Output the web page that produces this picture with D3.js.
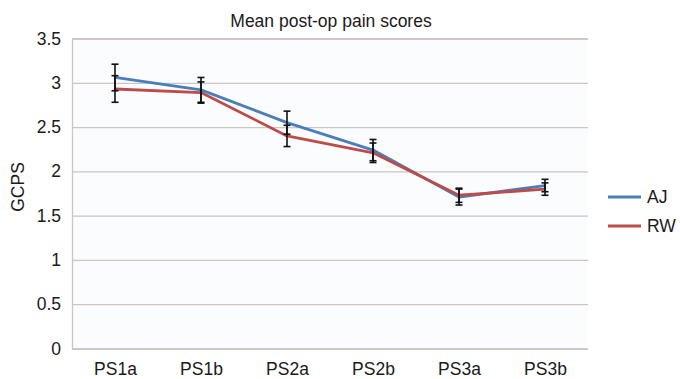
<!DOCTYPE html>
<html>
<head>
<meta charset="utf-8">
<script src="https://cdn.jsdelivr.net/npm/d3@7"></script>
<style>
  body { margin: 0; background: #fff; }
  text { font-family: "Liberation Sans", Arial, sans-serif; fill: #1a1a1a; }
</style>
</head>
<body>
<svg width="680" height="379"></svg>
<script>
var categories = ["PS1a", "PS1b", "PS2a", "PS2b", "PS3a", "PS3b"];
var ajMean = [3.06, 2.92, 2.55, 2.24, 1.71, 1.84];
var ajErr  = [0.15, 0.14, 0.13, 0.12, 0.09, 0.07];
var rwMean = [2.93, 2.89, 2.40, 2.21, 1.73, 1.80];
var rwErr  = [0.15, 0.12, 0.12, 0.11, 0.08, 0.07];
var yTicks = [0, 0.5, 1, 1.5, 2, 2.5, 3, 3.5];

var series = [
  { name: "AJ", mean: ajMean, err: ajErr, color: "#4a7ebb" },
  { name: "RW", mean: rwMean, err: rwErr, color: "#be4b48" }
];

var svg = d3.select("svg"),
    plotLeft = 72, plotRight = 588, plotTop = 38.5, plotBottom = 348.5;

var x = d3.scalePoint().domain(categories).range([plotLeft, plotRight]).padding(0.5);
var y = d3.scaleLinear().domain([0, 3.5]).range([plotBottom, plotTop]);

// faint plot background
svg.append("rect")
    .attr("x", plotLeft).attr("y", plotTop)
    .attr("width", plotRight - plotLeft).attr("height", plotBottom - plotTop)
    .attr("fill", "#fbfcfe");

// gridlines
var yAxis = svg.append("g")
    .attr("transform", "translate(" + plotLeft + ",0)")
    .call(d3.axisLeft(y).tickValues(yTicks).tickSize(-(plotRight - plotLeft)).tickPadding(11)
      .tickFormat(function(d) { return d; }));
yAxis.select(".domain").attr("stroke", "#c9c6c3").attr("stroke-width", 1.3);
yAxis.selectAll(".tick line").attr("stroke", "#c9c6c3").attr("stroke-width", 1.3);
yAxis.selectAll(".tick text").style("font-size", "17.5px").attr("fill", "#1a1a1a");

var xAxis = svg.append("g")
    .attr("transform", "translate(0," + plotBottom + ")")
    .call(d3.axisBottom(x).tickSize(0).tickPadding(14));
xAxis.select(".domain").remove();
xAxis.selectAll(".tick text").style("font-size", "17.5px").attr("fill", "#1a1a1a");

// title and axis label
svg.append("text")
    .attr("x", 331).attr("y", 27)
    .attr("text-anchor", "middle")
    .style("font-size", "17.5px")
    .text("Mean post-op pain scores");

svg.append("text")
    .attr("transform", "translate(24,187) rotate(-90)")
    .attr("text-anchor", "middle")
    .style("font-size", "17.5px")
    .text("GCPS");

// lines
var line = d3.line()
    .x(function(d, i) { return x(categories[i]); })
    .y(function(d) { return y(d); });

series.forEach(function(s) {
  svg.append("path")
      .datum(s.mean)
      .attr("fill", "none")
      .attr("stroke", s.color)
      .attr("stroke-width", 2.8)
      .attr("stroke-linejoin", "round")
      .attr("d", line);
});

// error bars
series.forEach(function(s) {
  var g = svg.append("g").attr("stroke", "#111").attr("stroke-width", 1.6);
  s.mean.forEach(function(m, i) {
    var cx = x(categories[i]), hi = y(m + s.err[i]), lo = y(m - s.err[i]);
    g.append("line").attr("x1", cx).attr("x2", cx).attr("y1", hi).attr("y2", lo);
    g.append("line").attr("x1", cx - 3.5).attr("x2", cx + 3.5).attr("y1", hi).attr("y2", hi);
    g.append("line").attr("x1", cx - 3.5).attr("x2", cx + 3.5).attr("y1", lo).attr("y2", lo);
  });
});

// legend
var legend = svg.append("g")
  .selectAll("g")
  .data(series)
  .enter().append("g")
    .attr("transform", function(d, i) { return "translate(608," + (197 + i * 29) + ")"; });
legend.append("line")
    .attr("x1", 0).attr("x2", 33)
    .attr("stroke", function(d) { return d.color; })
    .attr("stroke-width", 2.8);
legend.append("text")
    .attr("x", 39).attr("y", 6)
    .style("font-size", "17.5px")
    .text(function(d) { return d.name; });
</script>
</body>
</html>
